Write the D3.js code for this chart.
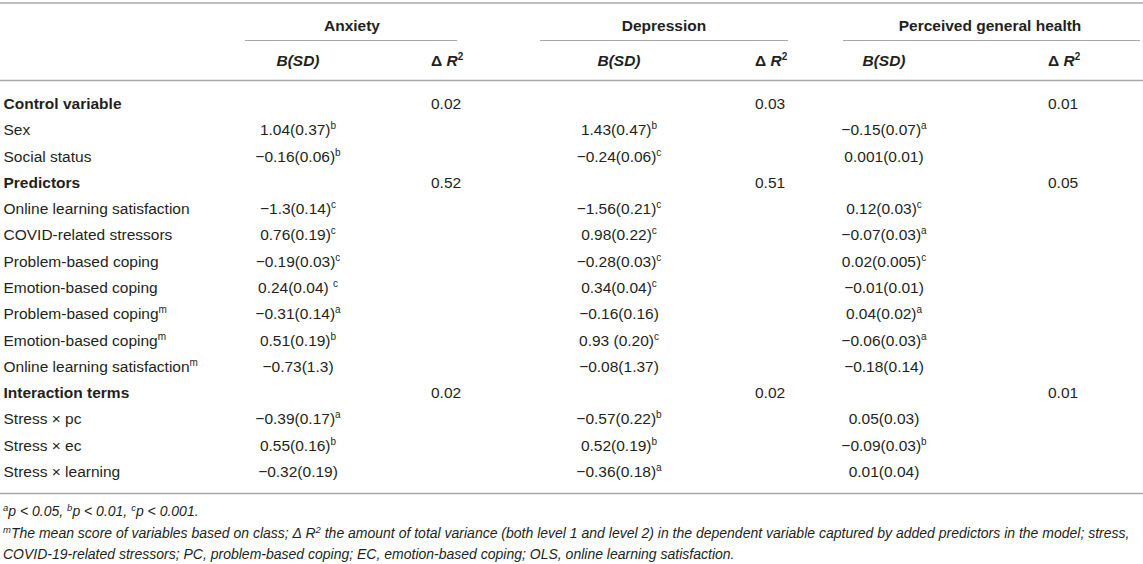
<!DOCTYPE html>
<html><head><meta charset="utf-8">
<script src="https://cdn.jsdelivr.net/npm/d3@7"></script>
<style>
body{margin:0;background:#fff;}
svg{display:block;font-family:"Liberation Sans",Arial,Helvetica,sans-serif;}
</style></head><body>
<svg id="c" width="1143" height="564"></svg>
<script>
// ---- data ----
const outcomes = ["Anxiety", "Depression", "Perceived general health"];
const rowLabels = ["Control variable","Sex","Social status","Predictors","Online learning satisfaction","COVID-related stressors","Problem-based coping","Emotion-based coping","Problem-based coping","Emotion-based coping","Online learning satisfaction","Interaction terms","Stress × pc","Stress × ec","Stress × learning"];
const rowSection = [true,false,false,true,false,false,false,false,false,false,false,true,false,false,false];
const rowLabelSup = ["","","","","","","","","m","m","m","","","",""];
const anxietyB = ["","1.04(0.37)","−0.16(0.06)","","−1.3(0.14)","0.76(0.19)","−0.19(0.03)","0.24(0.04) ","−0.31(0.14)","0.51(0.19)","−0.73(1.3)","","−0.39(0.17)","0.55(0.16)","−0.32(0.19)"];
const anxietySup = ["","b","b","","c","c","c","c","a","b","","","a","b",""];
const anxietyR2 = ["0.02","","","0.52","","","","","","","","0.02","","",""];
const depressionB = ["","1.43(0.47)","−0.24(0.06)","","−1.56(0.21)","0.98(0.22)","−0.28(0.03)","0.34(0.04)","−0.16(0.16)","0.93 (0.20)","−0.08(1.37)","","−0.57(0.22)","0.52(0.19)","−0.36(0.18)"];
const depressionSup = ["","b","c","","c","c","c","c","","c","","","b","b","a"];
const depressionR2 = ["0.03","","","0.51","","","","","","","","0.02","","",""];
const healthB = ["","−0.15(0.07)","0.001(0.01)","","0.12(0.03)","−0.07(0.03)","0.02(0.005)","−0.01(0.01)","0.04(0.02)","−0.06(0.03)","−0.18(0.14)","","0.05(0.03)","−0.09(0.03)","0.01(0.04)"];
const healthSup = ["","a","","","c","a","c","","a","a","","","","b",""];
const healthR2 = ["0.01","","","0.05","","","","","","","","0.01","","",""];
const footSig = [["a","p < 0.05, "],["b","p < 0.01, "],["c","p < 0.001."]];
const footNote2 = "The mean score of variables based on class; Δ ";
const footNote2b = " the amount of total variance (both level 1 and level 2) in the dependent variable captured by added predictors in the model; stress,";
const footNote3 = "COVID-19-related stressors; PC, problem-based coping; EC, emotion-based coping; OLS, online learning satisfaction.";

// ---- layout ----
const svg = d3.select("#c");
const ink = "#231f20";
const rule = "#a7a9ac";
const fs = 15.5;
const supFs = 10;

const y = d3.scalePoint().domain(d3.range(rowLabels.length)).range([103.5, 471.5]);
const groups = [
  {name: outcomes[0], b: anxietyB, s: anxietySup, r: anxietyR2, bx: 298, rx: 431, hx: 352, l0: 245, l1: 457},
  {name: outcomes[1], b: depressionB, s: depressionSup, r: depressionR2, bx: 619, rx: 755, hx: 664, l0: 540, l1: 788},
  {name: outcomes[2], b: healthB, s: healthSup, r: healthR2, bx: 884, rx: 1048, hx: 990, l0: 843, l1: 1140}
];

function hline(x0, x1, yy, w) {
  svg.append("line").attr("x1", x0).attr("x2", x1).attr("y1", yy).attr("y2", yy)
    .attr("stroke", rule).attr("stroke-width", w || 1);
}
hline(0, 1143, 3, 1.5);
hline(0, 1143, 80.5, 1.5);
hline(0, 1143, 493.5, 1.5);

// header
groups.forEach(g => {
  svg.append("text").attr("x", g.hx).attr("y", 30.5).attr("text-anchor", "middle")
    .attr("font-size", fs).attr("font-weight", "bold").attr("fill", ink).text(g.name);
  hline(g.l0, g.l1, 40.5, 1);
  svg.append("text").attr("x", g.bx).attr("y", 66).attr("text-anchor", "middle")
    .attr("font-size", fs).attr("font-weight", "bold").attr("font-style", "italic").attr("fill", ink).text("B(SD)");
  const t = svg.append("text").attr("x", g.rx).attr("y", 66)
    .attr("font-size", fs).attr("font-weight", "bold").attr("fill", ink);
  t.append("tspan").text("Δ ");
  t.append("tspan").attr("font-style", "italic").text("R");
  t.append("tspan").attr("font-size", supFs).attr("dy", -6).text("2");
});

// body rows
function supText(sel, main, sup, anchor) {
  const t = sel.append("text").attr("text-anchor", anchor).attr("font-size", fs).attr("fill", ink);
  t.append("tspan").text(main);
  if (sup) t.append("tspan").attr("font-size", supFs).attr("dy", -6).text(sup);
  return t;
}

const rows = svg.selectAll("g.row").data(d3.range(rowLabels.length)).join("g")
  .attr("class", "row").attr("transform", i => `translate(0,${y(i) + 5.5})`);

rows.each(function(i) {
  const g = d3.select(this);
  const lab = supText(g, rowLabels[i], rowLabelSup[i], "start").attr("x", 3.5);
  if (rowSection[i]) lab.attr("font-weight", "bold");
  groups.forEach(c => {
    if (c.b[i]) supText(g, c.b[i], c.s[i], "middle").attr("x", c.bx);
    if (c.r[i]) g.append("text").attr("x", c.rx).attr("font-size", fs).attr("fill", ink).text(c.r[i]);
  });
});

// footnotes
const ffs = 14;
const fsup = 9.5;
const f1 = svg.append("text").attr("x", 3).attr("y", 516).attr("font-size", ffs).attr("font-style", "italic").attr("fill", ink);
footSig.forEach(([s, t]) => {
  f1.append("tspan").attr("font-size", fsup).attr("dy", -5).text(s);
  f1.append("tspan").attr("dy", 5).text(t);
});
const f2 = svg.append("text").attr("x", 3).attr("y", 537.5).attr("font-size", ffs).attr("font-style", "italic").attr("fill", ink);
f2.append("tspan").attr("font-size", fsup).attr("dy", -5).text("m");
f2.append("tspan").attr("dy", 5).text(footNote2);
f2.append("tspan").text("R");
f2.append("tspan").attr("font-size", fsup).attr("dy", -5).text("2");
f2.append("tspan").attr("dy", 5).text(footNote2b);
svg.append("text").attr("x", 3).attr("y", 559).attr("font-size", ffs).attr("font-style", "italic").attr("fill", ink).text(footNote3);
</script>
</body></html>
